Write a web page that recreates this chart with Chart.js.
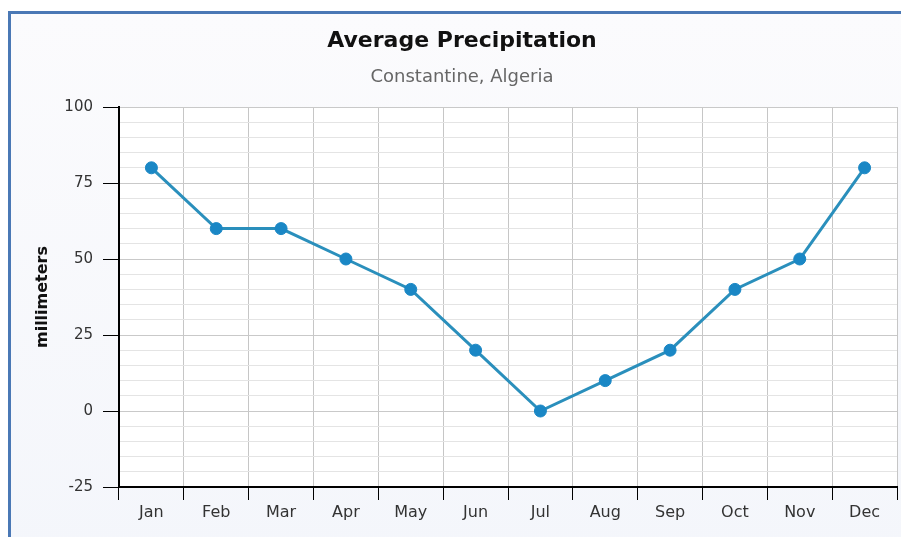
<!DOCTYPE html>
<html>
<head>
<meta charset="utf-8">
<script src="https://cdn.jsdelivr.net/npm/chart.js@4"></script>
<style>
  html, body { margin: 0; padding: 0; background: #ffffff; overflow: hidden; width: 901px; height: 537px; }
  #frame {
    position: absolute; left: 8px; top: 11px; width: 910px; height: 540px;
    border-top: 3px solid #4a78b5; border-left: 3px solid #4a78b5;
    background: linear-gradient(to bottom, #fbfbfd, #f4f6fb);
  }
  #c { position: absolute; left: 0; top: 0; }
</style>
</head>
<body>
<div id="frame"><canvas id="c" width="902" height="523"></canvas></div>
<script>
const months = ['Jan','Feb','Mar','Apr','May','Jun','Jul','Aug','Sep','Oct','Nov','Dec'];
const precipitation = [80, 60, 60, 50, 40, 20, 0, 10, 20, 40, 50, 80];
const yMin = -25, yMax = 100, yMinorStep = 5, yMajorStep = 25;
const titleText = 'Average Precipitation';
const subtitleText = 'Constantine, Algeria';
const yTitleText = 'millimeters';

const plotBg = {
  id: 'plotBg',
  beforeDraw(chart) {
    const {ctx, chartArea: a} = chart;
    ctx.save();
    ctx.fillStyle = '#ffffff';
    ctx.fillRect(a.left, a.top, a.right - a.left, a.bottom - a.top);
    ctx.restore();
  }
};

const isMajor = v => Math.abs(v % yMajorStep) < 1e-9;

new Chart(document.getElementById('c'), {
  type: 'line',
  data: {
    labels: months,
    datasets: [{
      data: precipitation,
      borderColor: '#2a8fbc',
      borderWidth: 3,
      backgroundColor: '#1a87c5',
      pointBackgroundColor: '#1a87c5',
      pointBorderColor: '#1a87c5',
      pointBorderWidth: 1,
      pointRadius: 6,
      tension: 0,
      fill: false,
      clip: false
    }]
  },
  options: {
    responsive: false,
    animation: false,
    layout: { padding: { left: 16, right: 16, top: 0, bottom: 0 } },
    plugins: {
      legend: { display: false },
      tooltip: { enabled: false },
      title: {
        display: true, text: titleText, color: '#111111',
        font: { family: 'DejaVu Sans', size: 22, weight: 'bold' },
        padding: { top: 14, bottom: 12 }
      },
      subtitle: {
        display: true, text: subtitleText, color: '#666666',
        font: { family: 'DejaVu Sans', size: 18 },
        padding: { top: 0, bottom: 19 }
      }
    },
    scales: {
      x: {
        offset: true,
        grid: { offset: true, color: '#c6c6c6', lineWidth: 1, tickColor: '#000000', tickLength: 13 },
        border: { color: '#000000', width: 2 },
        ticks: { color: '#333333', font: { family: 'DejaVu Sans', size: 16 }, padding: 3, maxRotation: 0 },
        afterFit(s) { s.height = 50; }
      },
      y: {
        min: yMin, max: yMax,
        grid: {
          color: c => isMajor(c.tick.value) ? '#c9c9c9' : '#e4e4e4',
          tickColor: c => isMajor(c.tick.value) ? '#000000' : 'rgba(0,0,0,0)',
          tickLength: 16, lineWidth: 1
        },
        border: { color: '#000000', width: 2 },
        ticks: {
          stepSize: yMinorStep, autoSkip: false, color: '#333333',
          font: { family: 'DejaVu Sans', size: 15 }, padding: 10,
          callback: v => isMajor(v) ? String(v) : ''
        },
        title: {
          display: true, text: yTitleText, color: '#111111',
          font: { family: 'DejaVu Sans', size: 16, weight: 'bold' },
          padding: { top: 6, bottom: 0 }
        },
        afterFit(s) { s.width = 92; }
      }
    }
  },
  plugins: [plotBg]
});
</script>
</body>
</html>
